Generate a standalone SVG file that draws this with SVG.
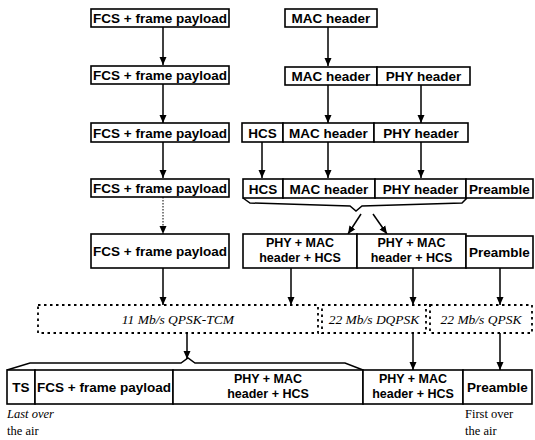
<svg xmlns="http://www.w3.org/2000/svg" width="535" height="440" viewBox="0 0 535 440">
<style>
.box{fill:#fff;stroke:#000;stroke-width:1.6}
.lbl{font-family:"Liberation Sans",Arial,sans-serif;font-weight:bold;font-size:13.5px;text-anchor:middle;fill:#000}
.lbl2{font-family:"Liberation Sans",Arial,sans-serif;font-weight:bold;font-size:12.5px;text-anchor:middle;fill:#000}
.it{font-family:"Liberation Serif","Times New Roman",serif;font-style:italic;font-size:13.5px;text-anchor:middle;fill:#000}
.note{font-family:"Liberation Serif","Times New Roman",serif;font-size:12.5px;fill:#000}
.dot{fill:none;stroke:#000;stroke-width:1.8;stroke-dasharray:2.5 3.5}
.con{fill:none;stroke:#000;stroke-width:1.5}
.arr{fill:none;stroke:#000;stroke-width:1.5;marker-end:url(#ah)}
.arrd{fill:none;stroke:#000;stroke-width:1;stroke-dasharray:1.5 1.5;marker-end:url(#ah)}
</style>
<defs>
<marker id="ah" markerUnits="userSpaceOnUse" markerWidth="8" markerHeight="8" refX="8" refY="4" orient="auto">
<path d="M0,0.5 L8,4 L0,7.5 z" fill="#000"/>
</marker>
</defs>
<rect width="535" height="440" fill="#fff"/>

<g id="connectors">
<line class="arr" x1="163" y1="27" x2="163" y2="65"/>
<line class="arr" x1="163" y1="84" x2="163" y2="123"/>
<line class="arr" x1="163" y1="142" x2="163" y2="178"/>
<line class="arrd" x1="163" y1="197" x2="163" y2="234"/>
<line class="arr" x1="328" y1="27" x2="328" y2="66"/>
<line class="arr" x1="328" y1="85" x2="328" y2="123"/>
<line class="arr" x1="421" y1="85" x2="421" y2="123"/>
<line class="arr" x1="262" y1="142" x2="262" y2="178"/>
<line class="arr" x1="328" y1="142" x2="328" y2="178"/>
<line class="arr" x1="421" y1="142" x2="421" y2="178"/>
<path class="con" d="M243,198 L250,203 L350,206 L356,211 L362,206 L462,203 L467,198"/>
<line class="arr" x1="361" y1="214" x2="348" y2="234"/>
<line class="arr" x1="373" y1="214" x2="387" y2="234"/>
<line class="arr" x1="163" y1="268" x2="163" y2="305"/>
<line class="arr" x1="291" y1="268" x2="291" y2="305"/>
<line class="arr" x1="413" y1="268" x2="413" y2="305"/>
<line class="arr" x1="500" y1="268" x2="500" y2="305"/>
<line class="arr" x1="187" y1="333" x2="187" y2="359"/>
<path class="con" d="M7,370 L30,363 L181,363 L188,358 L195,363 L345,363 L363,370"/>
<line class="arr" x1="413" y1="333" x2="413" y2="370"/>
<line class="arr" x1="500" y1="333" x2="500" y2="370"/>
</g>

<g id="fcs1"><rect class="box" x="91" y="9" width="138" height="18"/><text class="lbl" x="160" y="23">FCS + frame payload</text></g>
<g id="fcs2"><rect class="box" x="91" y="66" width="138" height="18"/><text class="lbl" x="160" y="80">FCS + frame payload</text></g>
<g id="fcs3"><rect class="box" x="91" y="123" width="138" height="19"/><text class="lbl" x="160" y="137.5">FCS + frame payload</text></g>
<g id="fcs4"><rect class="box" x="91" y="179" width="138" height="18"/><text class="lbl" x="160" y="193">FCS + frame payload</text></g>
<g id="fcs5"><rect class="box" x="91" y="234" width="138" height="34"/><text class="lbl" x="160" y="256">FCS + frame payload</text></g>

<g id="mac1"><rect class="box" x="285" y="9" width="92" height="18"/><text class="lbl" x="331" y="23">MAC header</text></g>

<g id="row2">
<rect class="box" x="285" y="67" width="92" height="18"/><text class="lbl" x="331" y="81">MAC header</text>
<rect class="box" x="377" y="67" width="93" height="18"/><text class="lbl" x="423.5" y="81">PHY header</text>
</g>

<g id="row3">
<rect class="box" x="242" y="123" width="41" height="19"/><text class="lbl" x="262.5" y="137.5">HCS</text>
<rect class="box" x="283" y="123" width="91" height="19"/><text class="lbl" x="328.5" y="137.5">MAC header</text>
<rect class="box" x="374" y="123" width="94" height="19"/><text class="lbl" x="421" y="137.5">PHY header</text>
</g>

<g id="row4">
<rect class="box" x="243" y="179" width="40" height="19"/><text class="lbl" x="263" y="193.5">HCS</text>
<rect class="box" x="283" y="179" width="92" height="19"/><text class="lbl" x="329" y="193.5">MAC header</text>
<rect class="box" x="375" y="179" width="91" height="19"/><text class="lbl" x="420.5" y="193.5">PHY header</text>
<rect class="box" x="466" y="179" width="67" height="19"/><text class="lbl" x="499.5" y="193.5">Preamble</text>
</g>

<g id="row5">
<rect class="box" x="243" y="234" width="114" height="34"/>
<text class="lbl2" x="300" y="247">PHY + MAC</text><text class="lbl2" x="300" y="261.5">header + HCS</text>
<rect class="box" x="357" y="234" width="109" height="34"/>
<text class="lbl2" x="411.5" y="247">PHY + MAC</text><text class="lbl2" x="411.5" y="261.5">header + HCS</text>
<rect class="box" x="466" y="236" width="67" height="32"/><text class="lbl" x="499.5" y="257">Preamble</text>
</g>

<g id="modulation">
<rect class="dot" x="38" y="305" width="280" height="28"/>
<text class="it" x="178" y="324">11 Mb/s QPSK-TCM</text>
<rect class="dot" x="322" y="305" width="104" height="28"/>
<text class="it" x="374" y="324">22 Mb/s DQPSK</text>
<rect class="dot" x="430" y="305" width="102" height="28"/>
<text class="it" x="481" y="324">22 Mb/s QPSK</text>
</g>

<g id="bottom">
<rect class="box" x="7" y="370" width="28" height="34"/><text class="lbl" x="21" y="392">TS</text>
<rect class="box" x="35" y="370" width="138" height="34"/><text class="lbl" x="104" y="392">FCS + frame payload</text>
<rect class="box" x="173" y="370" width="190" height="34"/>
<text class="lbl2" x="268" y="383">PHY + MAC</text><text class="lbl2" x="268" y="397.5">header + HCS</text>
<rect class="box" x="363" y="370" width="100" height="34"/>
<text class="lbl2" x="413" y="383">PHY + MAC</text><text class="lbl2" x="413" y="397.5">header + HCS</text>
<rect class="box" x="463" y="370" width="69" height="34"/><text class="lbl" x="497.5" y="392">Preamble</text>
</g>

<g id="notes">
<text class="note" x="7" y="418" font-style="italic">Last over</text>
<text class="note" x="7" y="435">the air</text>
<text class="note" x="465" y="418">First over</text>
<text class="note" x="465" y="435">the air</text>
</g>
</svg>
